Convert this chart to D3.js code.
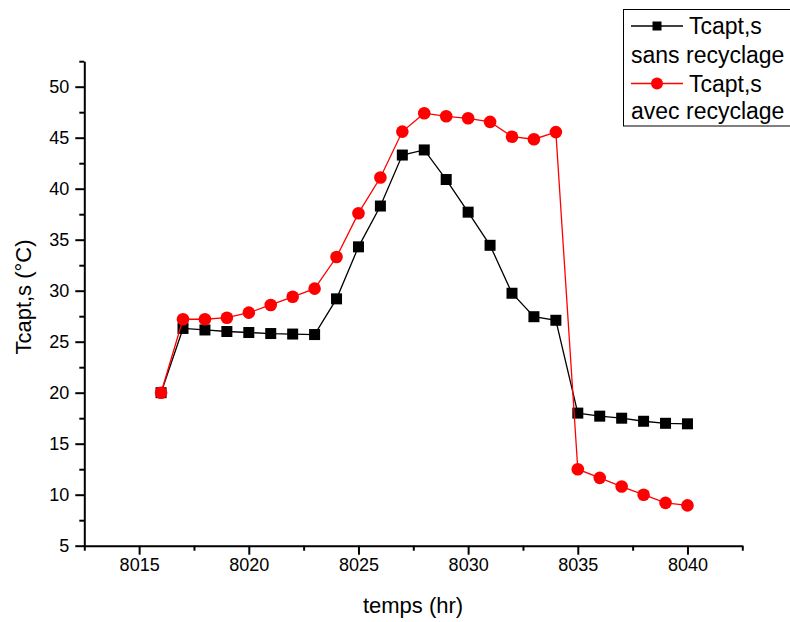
<!DOCTYPE html>
<html>
<head>
<meta charset="utf-8">
<script src="https://cdn.jsdelivr.net/npm/d3@7"></script>
<style>
  html, body { margin: 0; padding: 0; background: #fff; }
  svg { display: block; font-family: "Liberation Sans", Arial, sans-serif; }
</style>
</head>
<body>
<svg id="chart" width="790" height="622"></svg>
<script>
const hours = [8016,8017,8018,8019,8020,8021,8022,8023,8024,8025,8026,8027,8028,8029,8030,8031,8032,8033,8034,8035,8036,8037,8038,8039,8040];
const sansRecyclage = [20.0,26.3,26.15,26.0,25.9,25.8,25.75,25.7,29.2,34.3,38.3,43.3,43.8,40.9,37.7,34.45,29.75,27.45,27.1,18.0,17.7,17.5,17.2,17.0,16.95];
const avecRecyclage = [20.0,27.2,27.2,27.35,27.85,28.6,29.4,30.2,33.3,37.6,41.1,45.6,47.4,47.1,46.9,46.55,45.1,44.85,45.55,12.5,11.65,10.8,10.0,9.2,8.95];
const xMajorTicks = [8015,8020,8025,8030,8035,8040];
const xMinorTicks = [8012.5,8017.5,8022.5,8027.5,8032.5,8037.5,8042.5];
const yMajorTicks = [5,10,15,20,25,30,35,40,45,50];
const yMinorTicks = [7.5,12.5,17.5,22.5,27.5,32.5,37.5,42.5,47.5,52.5];
const xTitle = "temps (hr)";
const yTitle = "Tcapt,s (°C)";
const seriesNames = [["Tcapt,s", "sans recyclage"], ["Tcapt,s", "avec recyclage"]];

const svg = d3.select("#chart");
const x = d3.scaleLinear().domain([8012.5, 8042.5]).range([84.3, 742.3]);
const y = d3.scaleLinear().domain([5, 52.5]).range([545.7, 61.2]);

const axisFont = 18;

// minor ticks
svg.append("g").attr("transform", `translate(0,${y(5)})`)
  .call(d3.axisBottom(x).tickValues(xMinorTicks).tickSize(5).tickSizeOuter(0).tickFormat(""))
  .call(g => g.select(".domain").remove())
  .call(g => g.selectAll("line").attr("stroke", "#000").attr("stroke-width", 2));
svg.append("g").attr("transform", `translate(${x(8012.5)},0)`)
  .call(d3.axisLeft(y).tickValues(yMinorTicks).tickSize(5).tickSizeOuter(0).tickFormat(""))
  .call(g => g.select(".domain").remove())
  .call(g => g.selectAll("line").attr("stroke", "#000").attr("stroke-width", 2));

// major axes
const xAxis = svg.append("g").attr("transform", `translate(0,${y(5)})`)
  .call(d3.axisBottom(x).tickValues(xMajorTicks).tickSize(9).tickSizeOuter(0).tickPadding(4).tickFormat(d3.format("d")));
xAxis.select(".domain").attr("stroke", "#000").attr("stroke-width", 2);
xAxis.selectAll("line").attr("stroke", "#000").attr("stroke-width", 2);
xAxis.selectAll("text").attr("font-size", axisFont).attr("fill", "#000")
  .attr("font-family", "'Liberation Sans', Arial, sans-serif");

const yAxis = svg.append("g").attr("transform", `translate(${x(8012.5)},0)`)
  .call(d3.axisLeft(y).tickValues(yMajorTicks).tickSize(9).tickSizeOuter(0).tickPadding(6).tickFormat(d3.format("d")));
yAxis.select(".domain").attr("stroke", "#000").attr("stroke-width", 2);
yAxis.selectAll("line").attr("stroke", "#000").attr("stroke-width", 2);
yAxis.selectAll("text").attr("font-size", axisFont).attr("fill", "#000")
  .attr("font-family", "'Liberation Sans', Arial, sans-serif");

// titles
svg.append("text").attr("x", 413).attr("y", 613).attr("text-anchor", "middle")
  .attr("font-size", 22).text(xTitle);
svg.append("text").attr("transform", "translate(31,297) rotate(-90)").attr("text-anchor", "middle")
  .attr("font-size", 22).text(yTitle);

// series
const line = d3.line().x((d, i) => x(hours[i])).y(d => y(d));
const sq = 11;
svg.append("path").datum(sansRecyclage).attr("d", line)
  .attr("fill", "none").attr("stroke", "#000").attr("stroke-width", 1.3);
svg.append("g").selectAll("rect").data(sansRecyclage).join("rect")
  .attr("x", (d, i) => x(hours[i]) - sq / 2).attr("y", d => y(d) - sq / 2)
  .attr("width", sq).attr("height", sq).attr("fill", "#000");

svg.append("path").datum(avecRecyclage).attr("d", line)
  .attr("fill", "none").attr("stroke", "#ff0000").attr("stroke-width", 1.3);
svg.append("g").selectAll("circle").data(avecRecyclage).join("circle")
  .attr("cx", (d, i) => x(hours[i])).attr("cy", d => y(d)).attr("r", 6.3)
  .attr("fill", "#ff0000");

// legend
const lg = svg.append("g");
lg.append("rect").attr("x", 623.5).attr("y", 9.5).attr("width", 200).attr("height", 116.5)
  .attr("fill", "#fff").attr("stroke", "#000").attr("stroke-width", 1);
const legendFont = 23;
// row 1
lg.append("line").attr("x1", 631).attr("x2", 683).attr("y1", 26).attr("y2", 26)
  .attr("stroke", "#000").attr("stroke-width", 1.3);
lg.append("rect").attr("x", 657 - 4.5).attr("y", 26 - 4.5).attr("width", 9).attr("height", 9).attr("fill", "#000");
lg.append("text").attr("x", 689).attr("y", 34).attr("font-size", legendFont).text(seriesNames[0][0]);
lg.append("text").attr("x", 631).attr("y", 63).attr("font-size", legendFont).text(seriesNames[0][1]);
// row 2
lg.append("line").attr("x1", 631).attr("x2", 683).attr("y1", 83.5).attr("y2", 83.5)
  .attr("stroke", "#ff0000").attr("stroke-width", 1.3);
lg.append("circle").attr("cx", 657).attr("cy", 83.5).attr("r", 6).attr("fill", "#ff0000");
lg.append("text").attr("x", 689).attr("y", 92).attr("font-size", legendFont).text(seriesNames[1][0]);
lg.append("text").attr("x", 631).attr("y", 119).attr("font-size", legendFont).text(seriesNames[1][1]);
</script>
</body>
</html>
